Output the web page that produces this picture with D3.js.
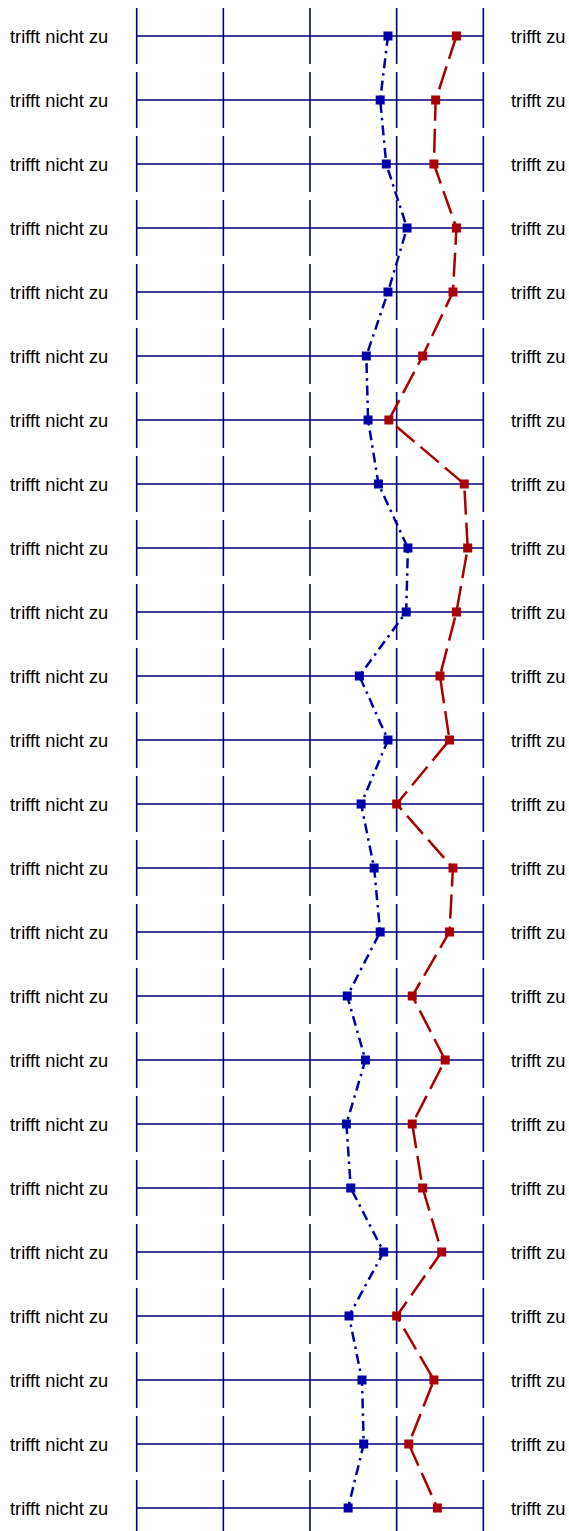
<!DOCTYPE html>
<html>
<head>
<meta charset="utf-8">
<script src="https://cdn.jsdelivr.net/npm/d3@7"></script>
<style>
  body { margin: 0; background: #fff; }
  text { font-family: "Liberation Sans", Arial, sans-serif; }
</style>
</head>
<body>
<div id="graph"></div>
<script>
// 24 items, 5-point scale
const leftLabels = Array(24).fill("trifft nicht zu");
const rightLabels = Array(24).fill("trifft zu");
const scaleTicks = [1, 2, 3, 4, 5];

const blueValues = [3.90, 3.81, 3.88, 4.12, 3.90, 3.65, 3.67, 3.79, 4.13, 4.11, 3.57, 3.90,
    3.59, 3.74, 3.81, 3.43, 3.64, 3.42, 3.47, 3.85, 3.45, 3.60, 3.62, 3.44];
const redValues = [4.69, 4.45, 4.43, 4.69, 4.65, 4.30, 3.91, 4.78, 4.82, 4.69, 4.50, 4.61,
    4.00, 4.65, 4.61, 4.18, 4.56, 4.18, 4.30, 4.52, 4.00, 4.43, 4.14, 4.47];

const width = 569, height = 1531;
const rowH = 64;

const x = d3.scaleLinear().domain([1, 5]).range([136.7, 483.3]);
const y = d3.scaleLinear().domain([0, 23]).range([36, 36 + rowH * 23]);

const svg = d3.select("#graph")
    .append("svg")
    .attr("width", width)
    .attr("height", height);

const grid = "#00007f";

// rows: horizontal line + short vertical ticks
const rows = svg.selectAll(".row")
    .data(leftLabels)
    .enter().append("g")
    .attr("class", "row")
    .attr("transform", function(d, i) { return "translate(0," + y(i) + ")"; });

rows.append("line")
    .attr("x1", x(1)).attr("x2", x(5))
    .attr("stroke", grid)
    .attr("stroke-width", 1.4);

rows.selectAll(".vt")
    .data(scaleTicks)
    .enter().append("line")
    .attr("class", "vt")
    .attr("x1", function(d) { return x(d); })
    .attr("x2", function(d) { return x(d); })
    .attr("y1", -28).attr("y2", 28)
    .attr("stroke", grid)
    .attr("stroke-width", 1.6);

rows.append("text")
    .attr("x", 10)
    .attr("dy", "0.37em")
    .style("font-size", "18.3px")
    .text(function(d) { return d; });

rows.append("text")
    .attr("x", 511)
    .attr("dy", "0.37em")
    .style("font-size", "18.3px")
    .text(function(d, i) { return rightLabels[i]; });

// series
const series = [
    {values: blueValues, color: "#0000aa", dash: "10,5,2.5,5"},
    {values: redValues, color: "#aa0000", dash: "24,8"}
];

series.forEach(function(s) {
    const line = d3.line()
        .x(function(d) { return x(d); })
        .y(function(d, i) { return y(i); });

    svg.append("path")
        .datum(s.values)
        .attr("d", line)
        .attr("fill", "none")
        .attr("stroke", s.color)
        .attr("stroke-width", 2.5)
        .attr("stroke-dasharray", s.dash);

    svg.selectAll(null)
        .data(s.values)
        .enter().append("rect")
        .attr("x", function(d) { return x(d) - 4.5; })
        .attr("y", function(d, i) { return y(i) - 4.5; })
        .attr("width", 9)
        .attr("height", 9)
        .attr("fill", s.color);
});
</script>
</body>
</html>
